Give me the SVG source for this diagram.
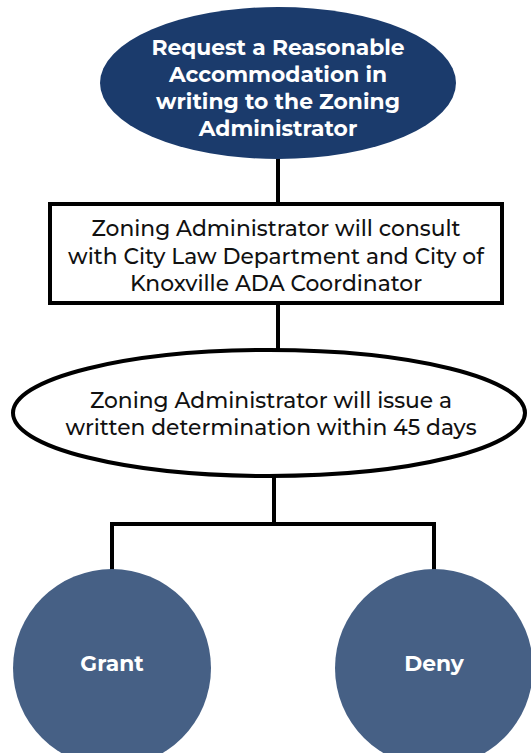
<svg xmlns="http://www.w3.org/2000/svg" width="531" height="753" viewBox="0 0 531 753">
<style>
.t{font-family:"Montserrat","Lato","Liberation Sans",sans-serif;font-size:21.8px;text-anchor:middle}
.w{fill:#ffffff;font-weight:bold}
.k{fill:#111111;font-weight:500}
.c{stroke:#000;stroke-width:4;fill:none}
</style>
<rect width="531" height="753" fill="#fff"/>
<g id="connectors">
<path class="c" d="M278,158 V204"/>
<path class="c" d="M278,303 V352"/>
<path class="c" d="M274,476 V524"/>
<path class="c" d="M112,570 V524 H434 V570"/>
</g>
<g id="n1">
<ellipse cx="278" cy="83" rx="178" ry="76" fill="#1b3b6c"/>
<text class="t w" x="278" y="55">Request a Reasonable</text>
<text class="t w" x="278" y="82">Accommodation in</text>
<text class="t w" x="278" y="109">writing to the Zoning</text>
<text class="t w" x="278" y="136">Administrator</text>
</g>
<g id="n2">
<rect x="50" y="204" width="452" height="99" fill="#fff" stroke="#000" stroke-width="4"/>
<text class="t k" x="276" y="236">Zoning Administrator will consult</text>
<text class="t k" x="276" y="264">with City Law Department and City of</text>
<text class="t k" x="276" y="291">Knoxville ADA Coordinator</text>
</g>
<g id="n3">
<ellipse cx="269" cy="413" rx="256" ry="63" fill="#fff" stroke="#000" stroke-width="4"/>
<text class="t k" x="271" y="408">Zoning Administrator will issue a</text>
<text class="t k" x="271" y="435">written determination within 45 days</text>
</g>
<g id="n4">
<circle cx="112" cy="668" r="99" fill="#466085"/>
<text class="t w" x="112" y="671">Grant</text>
</g>
<g id="n5">
<circle cx="434" cy="668" r="99" fill="#466085"/>
<text class="t w" x="434" y="671">Deny</text>
</g>
</svg>
